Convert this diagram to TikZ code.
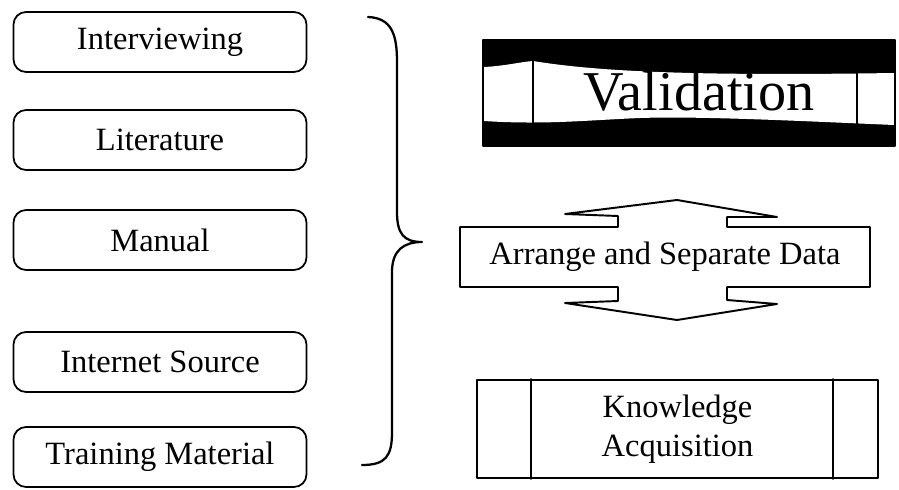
\documentclass[tikz,border=0pt]{standalone}
\usepackage{fontspec}
\setmainfont{Liberation Serif}
\begin{document}
\begin{tikzpicture}[x=0.02cm, y=-0.02cm, line cap=round, line join=round,
    every node/.style={font=\fontsize{18.5}{22.5}\selectfont},
    srcbox/.style={draw, line width=1pt, rounded corners=2.5mm, minimum width=5.86cm, minimum height=1.2cm, inner sep=0pt},
    bracepath/.style={line width=1.3pt}]
                \useasboundingbox (0,0) rectangle (899,490);
                % sources
                \foreach \name/\y/\txt in {intv/42/Interviewing, lit/140/Literature, man/240/Manual, inet/362/Internet Source, train/457/Training Material}
                    \node[srcbox] (\name) at (160,\y) {\txt};
                \coordinate (btop) at (368,17);
                \coordinate (btip) at (422,242);
                \coordinate (bbot) at (362,465);
                \draw[bracepath] (btop) .. controls (392,18) and (397,35) .. (397,62) -- (397,212)
                    .. controls (397,234) and (404,242) .. (btip)
                    .. controls (404,242) and (392,250) .. (392,272) -- (392,432)
                    .. controls (392,456) and (386,465) .. (bbot);
                % validation banner
                \fill (483,40) rectangle (895,146);
                \fill[white] (484,67) .. controls (505,66) and (520,62) .. (533,61)
                    .. controls (600,72) and (700,76) .. (894,73) -- (894,125)
                    .. controls (800,121) and (700,116) .. (640,118)
                    .. controls (590,120) and (545,125) .. (484,121) -- cycle;
                \draw[line width=1pt] (483,40) rectangle (895,146);
                \draw[line width=1pt] (533,40) -- (533,146);
                \draw[line width=1pt] (857,40) -- (857,146);
                \node[font=\fontsize{32}{36}\selectfont] (valid) at (699,91) {Validation};
                % arrange
                \node (arrange) at (665,257) {Arrange and Separate Data};
                \draw[line width=1.1pt] (460,227) -- (618,227) -- (618,216) -- (565,214) -- (677,200)
                    -- (777,217) -- (727,217) -- (727,227) -- (870,227) -- (870,287)
                    -- (727,287) -- (727,300) -- (777,304) -- (677,320) -- (565,303)
                    -- (618,301) -- (618,287) -- (460,287) -- cycle;
                % knowledge
                \node[draw, line width=1.1pt, minimum width=8.02cm, minimum height=1.96cm, align=center, inner sep=0pt] (know) at (677.5,429) {Knowledge\\Acquisition};
                \draw[line width=1pt] ([xshift=1.1cm]know.north west) -- ([xshift=1.1cm]know.south west);
                \draw[line width=1pt] ([xshift=-0.92cm]know.north east) -- ([xshift=-0.92cm]know.south east);
            \end{tikzpicture}
\end{document}
